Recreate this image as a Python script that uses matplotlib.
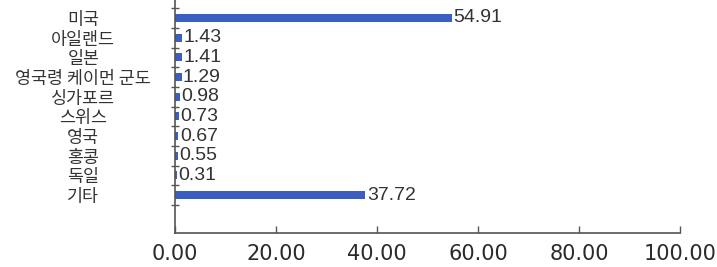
import matplotlib.pyplot as plt
import numpy as np

countries = ["미국", "아일랜드", "일본", "영국령 케이먼 군도", "싱가포르",
             "스위스", "영국", "홍콩", "독일", "기타"]
shares = [54.91, 1.43, 1.41, 1.29, 0.98, 0.73, 0.67, 0.55, 0.31, 37.72]
xticks = [0, 20, 40, 60, 80, 100]

bar_color = "#3b5fc0"
axis_color = "#555555"
text_color = "#333333"

fig = plt.figure(figsize=(7.17, 2.67), dpi=100)
ax = fig.add_axes([0.2441, 0.1273, 0.7043, 0.8727])

pos = np.arange(len(countries))
ax.barh(pos, shares, height=0.4, color=bar_color)

for y, v in zip(pos, shares):
    ax.annotate("{:.2f}".format(v), (v, y), xytext=(1, 0), textcoords="offset points",
                ha="left", va="center", fontsize=14, color=text_color,
                family="Liberation Sans")

ax.set_xlim(0, 100)
ax.set_ylim(10.93, -0.915)

ax.set_xticks(xticks)
ax.set_xticklabels(["{:.2f}".format(t) for t in xticks], fontsize=15,
                   color="#2a2a2a", family="DejaVu Sans")
ax.tick_params(axis="x", direction="in", length=5, width=1, color=axis_color, pad=8)

ax.set_yticks(pos)
ax.set_yticklabels(countries, ha="center", fontsize=12.5, color=text_color,
                   family=["Noto Sans CJK KR", "DejaVu Sans"])
ax.set_yticks(np.arange(-0.5, len(countries), 1.0), minor=True)
ax.tick_params(axis="y", which="major", length=0, pad=66)
ax.tick_params(axis="y", which="minor", direction="inout", length=6, width=1,
               color=axis_color)

for side in ["top", "right"]:
    ax.spines[side].set_visible(False)
for side in ["left", "bottom"]:
    ax.spines[side].set_color(axis_color)
    ax.spines[side].set_linewidth(1.2)

plt.savefig("out.png", dpi=100)
